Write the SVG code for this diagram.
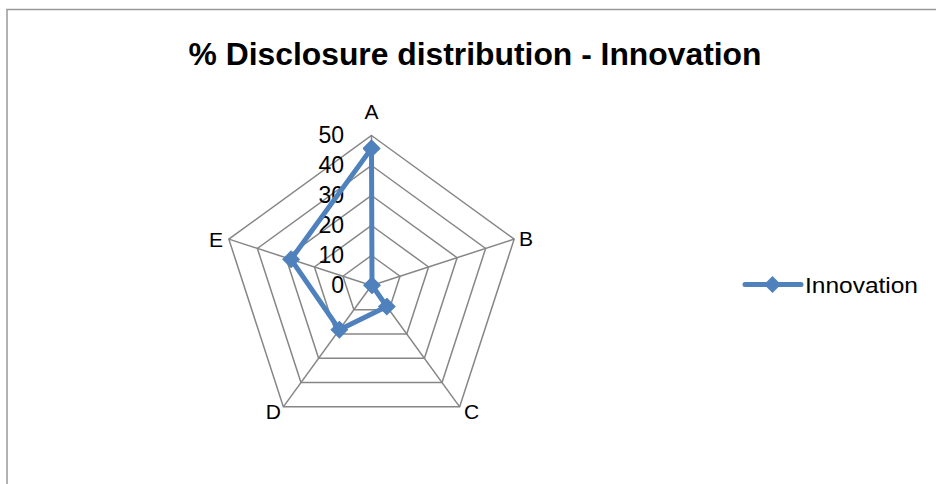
<svg xmlns="http://www.w3.org/2000/svg" width="936" height="484" viewBox="0 0 936 484">
<defs>
<style>
.grid{fill:none;stroke:#868686;stroke-width:1.5}
.spoke{stroke:#868686;stroke-width:1.5}
.series{fill:none;stroke:#4F81BD;stroke-width:5;stroke-linejoin:round}
.lbl{font-family:"Liberation Sans",Arial,sans-serif;fill:#000}
.cat{font-size:21px}
.num{font-size:23px;text-anchor:end}
</style>
<marker id="dia" viewBox="-9 -9 18 18" markerWidth="18" markerHeight="18" markerUnits="userSpaceOnUse" refX="0" refY="0" orient="0">
<path d="M0,-9 L9,0 L0,9 L-9,0 Z" fill="#4F81BD"/>
</marker>
</defs>
<rect width="936" height="484" fill="#fff"/>
<path d="M7,484 L7,9.5 L936,9.5" fill="none" stroke="#999" stroke-width="1.5"/>
<text class="lbl" x="475" y="65" font-size="32" font-weight="bold" text-anchor="middle" textLength="573" lengthAdjust="spacingAndGlyphs">% Disclosure distribution - Innovation</text>
<g id="grid">
<polygon class="grid" points="371.5,255.5 400.03,276.23 389.13,309.77 353.87,309.77 342.97,276.23"/>
<polygon class="grid" points="371.5,225.5 428.56,266.96 406.77,334.04 336.23,334.04 314.44,266.96"/>
<polygon class="grid" points="371.5,195.5 457.10,257.69 424.40,358.31 318.60,358.31 285.90,257.69"/>
<polygon class="grid" points="371.5,165.5 485.63,248.42 442.03,382.58 300.97,382.58 257.37,248.42"/>
<polygon class="grid" points="371.5,135.5 514.16,239.15 459.67,406.85 283.33,406.85 228.84,239.15"/>
<line class="spoke" x1="371.5" y1="285.5" x2="371.5" y2="135.5"/>
<line class="spoke" x1="371.5" y1="285.5" x2="514.16" y2="239.15"/>
<line class="spoke" x1="371.5" y1="285.5" x2="459.67" y2="406.85"/>
<line class="spoke" x1="371.5" y1="285.5" x2="283.33" y2="406.85"/>
<line class="spoke" x1="371.5" y1="285.5" x2="228.84" y2="239.15"/>
</g>
<g id="axis-values">
<text class="lbl num" x="344" y="293">0</text>
<text class="lbl num" x="344" y="263">10</text>
<text class="lbl num" x="344" y="233">20</text>
<text class="lbl num" x="344" y="203">30</text>
<text class="lbl num" x="344" y="173">40</text>
<text class="lbl num" x="344" y="143">50</text>
</g>
<g id="categories">
<text class="lbl cat" x="371.5" y="119" text-anchor="middle">A</text>
<text class="lbl cat" x="519" y="246">B</text>
<text class="lbl cat" x="464" y="419">C</text>
<text class="lbl cat" x="281" y="419" text-anchor="end">D</text>
<text class="lbl cat" x="223" y="247" text-anchor="end">E</text>
</g>
<g id="connectors">
<polyline class="series" points="371.5,148.4 372,285.3 386.84,306.62 339.41,329.67 291.04,259.36 371.5,148.4" marker-start="url(#dia)" marker-mid="url(#dia)" marker-end="url(#dia)"/>
</g>
<g id="legend">
<line x1="745" y1="284.5" x2="801" y2="284.5" stroke="#4F81BD" stroke-width="5" stroke-linecap="round"/>
<path d="M772.5,276 L781,284.5 L772.5,293 L764,284.5 Z" fill="#4F81BD"/>
<text class="lbl" x="805" y="293" font-size="22" textLength="113" lengthAdjust="spacingAndGlyphs">Innovation</text>
</g>
</svg>
